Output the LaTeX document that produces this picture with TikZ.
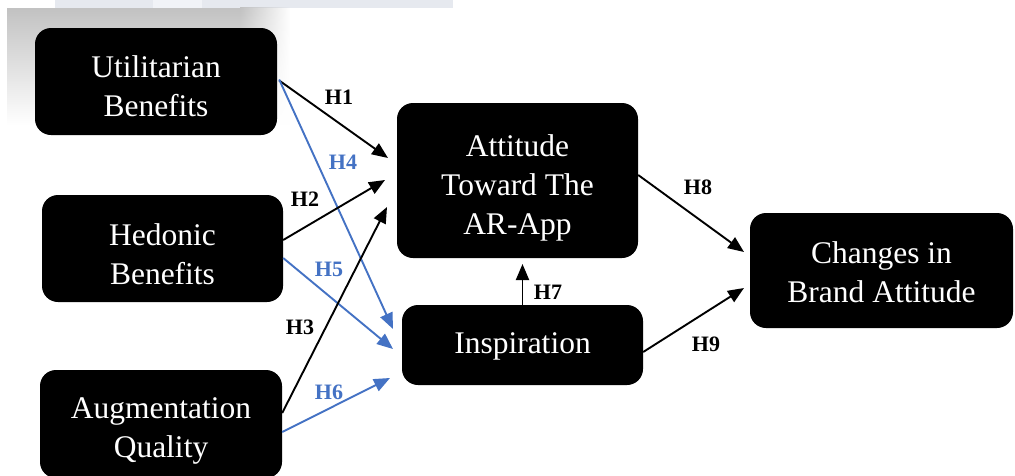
\documentclass[tikz,border=0pt]{standalone}
\usepackage{fontspec}
\setmainfont{Liberation Serif}
\usetikzlibrary{arrows.meta,fadings}
\definecolor{hblue}{HTML}{4472C4}
\definecolor{stripA}{HTML}{E6E9EF}
\definecolor{stripB}{HTML}{F1F3F7}
\tikzfading[name=fadeRight, left color=transparent!0, right color=transparent!100]
\begin{document}
\begin{tikzpicture}[x=1pt,y=-1pt,
  box/.style={draw=none, fill=black, rounded corners=16pt, inner sep=0pt},
  boxtext/.style={text=white, align=center, font=\fontsize{31.5}{39}\selectfont, inner sep=0pt},
  conn/.style={line width=1.9pt, draw=black, -{Triangle[length=16pt,width=13pt]}},
  blueconn/.style={conn, draw=hblue, fill=hblue},
  hlab/.style={font=\fontsize{22}{24}\selectfont\bfseries, inner sep=0pt},
]
\useasboundingbox (0,0) rectangle (1015,475);
\fill[white] (0,0) rectangle (1015,475);
% background artefacts
\fill[stripA] (55,0) rectangle (453,8);
\fill[stripB] (153,0) rectangle (202,8);
\shade[top color=black!24, bottom color=white] (7,8) rectangle (240,125);
\shade[top color=black!24, bottom color=white, path fading=fadeRight] (240,8) rectangle (290,125);

% boxes
\node[box, minimum width=242pt, minimum height=107pt] (u) at (156,81.5) {};
\node[box, minimum width=241pt, minimum height=107pt] (h) at (162.5,248.5) {};
\node[box, minimum width=242pt, minimum height=108pt] (a) at (161,424) {};
\node[box, minimum width=241pt, minimum height=155pt] (att) at (517.5,180.5) {};
\node[box, minimum width=241pt, minimum height=80pt] (ins) at (522.5,345) {};
\node[box, minimum width=263pt, minimum height=115pt] (cba) at (881.5,270.5) {};

% box texts
\node[boxtext] (ut) at ([yshift=-5pt]u.center) {Utilitarian\\Benefits};
\node[boxtext] (ht) at ([yshift=-5.5pt]h.center) {Hedonic\\Benefits};
\node[boxtext] (at) at ([yshift=-7pt]a.center) {Augmentation\\Quality};
\node[boxtext] (attt) at ([yshift=-7pt]att.center) {Attitude\\Toward The\\AR-App};
\node[boxtext] (inst) at ([yshift=-1pt]ins.center) {Inspiration};
\node[boxtext] (cbat) at ([yshift=-2pt]cba.center) {Changes in\\Brand Attitude};

% arrow ends
\coordinate (t1) at (388,158);
\coordinate (t4) at (393,329);
\coordinate (t2) at (385,180);
\coordinate (t3) at (387,207);
\coordinate (t5) at (393,349);
\coordinate (t6) at (390,378);
\coordinate (t7) at (522.5,264);
\coordinate (t8) at (744,252);
\coordinate (t9) at (744,288);

% connectors
\draw[conn] ([xshift=2pt,yshift=1pt]u.east) -- (t1);
\draw[blueconn] ([xshift=2pt,yshift=2pt]u.east) -- (t4);
\draw[conn] ([yshift=8.5pt]h.east) -- (t2);
\draw[blueconn] ([yshift=-9.5pt]h.east) -- (t5);
\draw[conn] ([yshift=11pt]a.east) -- (t3);
\draw[blueconn] ([yshift=-8pt]a.east) -- (t6);
\draw[conn] (ins.north) -- (t7);
\draw[conn] ([yshift=5.5pt]att.east) -- (t8);
\draw[conn] ([yshift=-7pt]ins.east) -- (t9);

% labels
\node[hlab] (l1) at (339,97) {H1};
\node[hlab, text=hblue] (l4) at (343,162) {H4};
\node[hlab] (l2) at (305,199) {H2};
\node[hlab, text=hblue] (l5) at (329,269) {H5};
\node[hlab] (l3) at (300,327) {H3};
\node[hlab, text=hblue] (l6) at (329,392) {H6};
\node[hlab] (l7) at (548,292) {H7};
\node[hlab] (l8) at (698,187) {H8};
\node[hlab] (l9) at (706,344) {H9};
\end{tikzpicture}
\end{document}
